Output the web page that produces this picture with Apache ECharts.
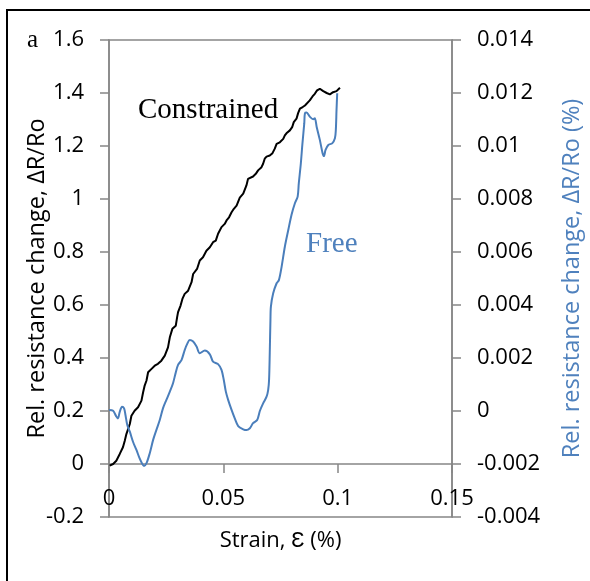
<!DOCTYPE html>
<html>
<head>
<meta charset="utf-8">
<script src="https://cdn.jsdelivr.net/npm/echarts@6/dist/echarts.min.js"></script>
<style>
html,body{margin:0;padding:0;background:#fff;}
#chart{width:590px;height:581px;}
</style>
</head>
<body>
<div id="chart"></div>
<script>
// Constrained specimen (left axis)
const strainC = [0.0003, 0.0018, 0.0032, 0.0047, 0.0061, 0.0069, 0.0076, 0.0091, 0.0098, 0.0112, 0.0127, 0.0134, 0.0142, 0.0149, 0.0156, 0.0164, 0.0171, 0.0186, 0.02, 0.0214, 0.0229, 0.0244, 0.0258, 0.0266, 0.0277, 0.0292, 0.0298, 0.0302, 0.0313, 0.0321, 0.0331, 0.0346, 0.0361, 0.0368, 0.0375, 0.0385, 0.0397, 0.0411, 0.0419, 0.0426, 0.0441, 0.0455, 0.0467, 0.0477, 0.0492, 0.0506, 0.0514, 0.0525, 0.0536, 0.0546, 0.0558, 0.0572, 0.0587, 0.0601, 0.0608, 0.0616, 0.063, 0.0642, 0.0652, 0.0667, 0.0674, 0.0681, 0.0689, 0.0703, 0.0715, 0.0725, 0.0733, 0.0747, 0.0762, 0.0769, 0.0776, 0.0791, 0.0801, 0.0808, 0.082, 0.0827, 0.0835, 0.0847, 0.0857, 0.0864, 0.0878, 0.089, 0.09, 0.091, 0.0922, 0.0937, 0.0952, 0.0966, 0.098, 0.0995, 0.101];
const resC = [-0.006, 0, 0.0125, 0.038, 0.063, 0.088, 0.113, 0.151, 0.182, 0.201, 0.214, 0.208, 0.239, 0.27, 0.296, 0.315, 0.346, 0.359, 0.371, 0.378, 0.39, 0.409, 0.44, 0.478, 0.51, 0.522, 0.554, 0.573, 0.598, 0.623, 0.642, 0.654, 0.686, 0.717, 0.724, 0.736, 0.768, 0.78, 0.787, 0.805, 0.818, 0.837, 0.843, 0.869, 0.894, 0.906, 0.919, 0.931, 0.95, 0.963, 0.975, 1.005, 1.02, 1.051, 1.076, 1.082, 1.085, 1.095, 1.108, 1.12, 1.133, 1.152, 1.16, 1.164, 1.173, 1.19, 1.208, 1.214, 1.227, 1.24, 1.248, 1.259, 1.271, 1.29, 1.303, 1.324, 1.341, 1.347, 1.353, 1.36, 1.372, 1.387, 1.397, 1.41, 1.416, 1.407, 1.4, 1.395, 1.403, 1.407, 1.42];

// Free specimen (right axis)
const strainF = [0, 0.0018, 0.0032, 0.0039, 0.0047, 0.0057, 0.0066, 0.0072, 0.008, 0.0091, 0.0105, 0.012, 0.0134, 0.0144, 0.0153, 0.0164, 0.0178, 0.0193, 0.0207, 0.0222, 0.0236, 0.0251, 0.0266, 0.028, 0.0291, 0.0302, 0.0317, 0.0331, 0.0343, 0.0353, 0.0368, 0.0383, 0.0397, 0.0419, 0.0441, 0.0455, 0.0477, 0.0492, 0.0502, 0.0511, 0.0521, 0.0536, 0.055, 0.0565, 0.0587, 0.0601, 0.0616, 0.063, 0.0648, 0.066, 0.0674, 0.0689, 0.0696, 0.07, 0.0703, 0.0706, 0.0708, 0.0718, 0.0733, 0.0743, 0.0755, 0.0769, 0.0784, 0.0798, 0.0813, 0.0825, 0.083, 0.0839, 0.0846, 0.0854, 0.0857, 0.0864, 0.0878, 0.0893, 0.09, 0.0908, 0.0922, 0.0934, 0.094, 0.0947, 0.0959, 0.0976, 0.0988, 0.0992, 0.0995, 0.0998];
const resF = [0.00004, 0.00001, -0.00021, -0.00028, -0.00003, 0.00016, 0.0001, -0.00015, -0.00053, -0.00078, -0.00116, -0.00147, -0.00179, -0.00197, -0.00208, -0.00197, -0.0016, -0.00109, -0.00072, -0.00034, 0.0001, 0.00042, 0.00073, 0.00105, 0.00142, 0.00174, 0.00192, 0.0023, 0.00255, 0.00268, 0.00262, 0.00243, 0.00218, 0.00228, 0.00214, 0.00186, 0.00177, 0.00155, 0.00117, 0.00073, 0.00042, 0.00004, -0.00028, -0.00057, -0.00069, -0.00072, -0.00065, -0.00046, -0.00034, 0.00001, 0.00029, 0.00054, 0.00079, 0.00117, 0.00218, 0.00343, 0.00394, 0.00444, 0.00482, 0.00494, 0.00545, 0.0062, 0.00683, 0.0074, 0.00784, 0.00809, 0.00859, 0.00935, 0.0101, 0.01086, 0.01124, 0.01126, 0.01111, 0.01101, 0.01105, 0.01073, 0.01023, 0.00973, 0.00962, 0.00985, 0.01004, 0.0101, 0.01029, 0.01061, 0.01136, 0.01199];

const xTicks = {min: 0, max: 0.15, interval: 0.05};
const yLeftTicks = {min: -0.2, max: 1.6, interval: 0.2};
const yRightTicks = {min: -0.004, max: 0.014, interval: 0.002};

const xTitle = 'Strain, Ɛ (%)';
const yLeftTitle = 'Rel. resistance change, ΔR/Ro';
const yRightTitle = 'Rel. resistance change, ΔR/Ro (%)';

const AX = '#868686';
const BLUE = '#4A7EBB';
const BLUE_TXT = '#4F81BD';
const FONT = '"Open Sans", sans-serif';
const SERIF = '"Liberation Serif", "Times New Roman", serif';

const fmt = v => String(+v.toFixed(4));

const chart = echarts.init(document.getElementById('chart'), null, {renderer: 'canvas'});
chart.setOption({
  backgroundColor: '#fff',
  animation: false,
  grid: {left: 109, top: 40, width: 343, height: 477, show: true, borderColor: AX, borderWidth: 1.5, backgroundColor: 'transparent', containLabel: false, outerBoundsMode: 'none'},
  xAxis: {
    type: 'value', min: xTicks.min, max: xTicks.max, interval: xTicks.interval,
    axisLine: {show: true, onZero: true, onZeroAxisIndex: 0, lineStyle: {color: AX, width: 1.5}},
    axisTick: {show: true, length: 9, lineStyle: {color: AX, width: 1.5}},
    axisLabel: {color: '#000', fontSize: 22, fontFamily: FONT, margin: -29, formatter: fmt},
    splitLine: {show: false},
    name: xTitle, nameLocation: 'middle', nameGap: 13, nameMoveOverlap: false,
    nameTextStyle: {color: '#000', fontSize: 22, fontFamily: FONT}
  },
  yAxis: [{
    type: 'value', position: 'left', min: yLeftTicks.min, max: yLeftTicks.max, interval: yLeftTicks.interval,
    axisLine: {show: true, onZero: false, lineStyle: {color: AX, width: 1.5}},
    axisTick: {show: true, length: 9, lineStyle: {color: AX, width: 1.5}},
    axisLabel: {color: '#000', fontSize: 22, fontFamily: FONT, margin: 25, formatter: fmt},
    splitLine: {show: false},
    name: yLeftTitle, nameLocation: 'middle', nameGap: 60, nameRotate: 90, nameMoveOverlap: false,
    nameTextStyle: {color: '#000', fontSize: 23.5, fontFamily: FONT}
  }, {
    type: 'value', position: 'right', min: yRightTicks.min, max: yRightTicks.max, interval: yRightTicks.interval,
    axisLine: {show: true, onZero: false, lineStyle: {color: AX, width: 1.5}},
    axisTick: {show: true, length: 9, lineStyle: {color: AX, width: 1.5}},
    axisLabel: {color: '#000', fontSize: 22, fontFamily: FONT, margin: 25, formatter: fmt},
    splitLine: {show: false},
    name: yRightTitle, nameLocation: 'middle', nameGap: 108, nameRotate: 90, nameMoveOverlap: false,
    nameTextStyle: {color: BLUE_TXT, fontSize: 23.5, fontFamily: FONT}
  }],
  series: [{
    name: 'Constrained', type: 'line', xAxisIndex: 0, yAxisIndex: 0,
    data: strainC.map((x, i) => [x, resC[i]]),
    showSymbol: false, smooth: false,
    lineStyle: {color: '#000', width: 2}, itemStyle: {color: '#000'}
  }, {
    name: 'Free', type: 'line', xAxisIndex: 0, yAxisIndex: 1,
    data: strainF.map((x, i) => [x, resF[i]]),
    showSymbol: false, smooth: 0.3,
    lineStyle: {color: BLUE, width: 2}, itemStyle: {color: BLUE}
  }],
  graphic: [
    {type: 'rect', shape: {x: 7, y: 10, width: 700, height: 700}, style: {fill: 'none', stroke: '#000', lineWidth: 2}, z: 0, silent: true},
    {type: 'text', left: 27, top: 28, style: {text: 'a', font: '25px ' + SERIF, fill: '#000'}, z: 10},
    {type: 'text', left: 138, top: 96, style: {text: 'Constrained', font: '29px ' + SERIF, fill: '#000'}, z: 10},
    {type: 'text', left: 306, top: 230, style: {text: 'Free', font: '29px ' + SERIF, fill: BLUE_TXT}, z: 10}
  ]
});
</script>
</body>
</html>
